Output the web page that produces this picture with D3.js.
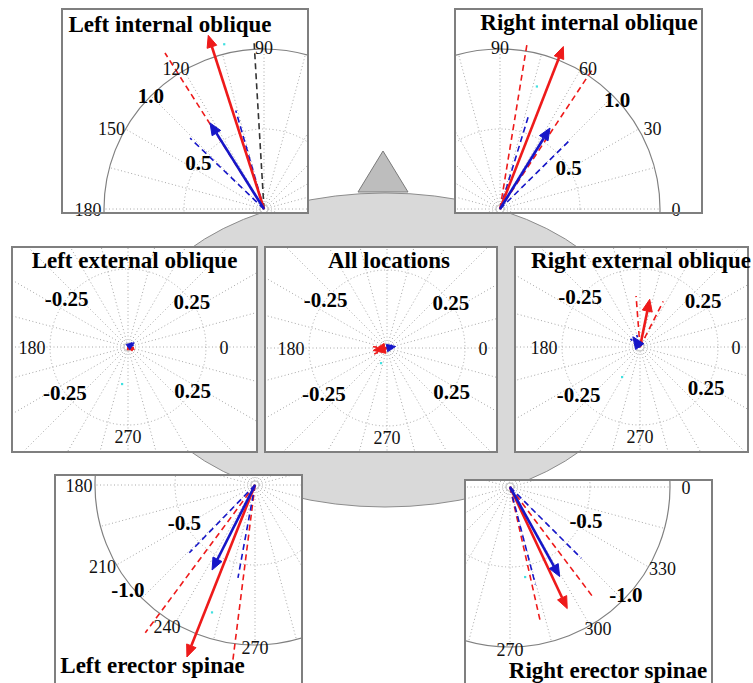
<!DOCTYPE html>
<html><head><meta charset="utf-8">
<script src="https://cdn.jsdelivr.net/npm/d3@7"></script>
<style>body{margin:0;background:#fff}svg{display:block}</style>
</head><body>
<svg id="c" width="753" height="683"></svg>
<script>
// ---------- DATA ----------
const titles = ["Left internal oblique","Right internal oblique","Left external oblique","All locations","Right external oblique","Left erector spinae","Right erector spinae"];
const angleTicks = [[90,120,150,180],[0,30,60,90],[0,180,270],[0,180,270],[0,180,270],[180,210,240,270],[0,270,300,330]];
const ringLabelText  = [["0.5","1.0"],["0.5","1.0"],["-0.25","0.25","-0.25","0.25"],["-0.25","0.25","-0.25","0.25"],["-0.25","0.25","-0.25","0.25"],["-0.5","-1.0"],["-0.5","-1.0"]];
const ringLabelValue = [[0.5,1.0],[0.5,1.0],[0.25,0.25,0.25,0.25],[0.25,0.25,0.25,0.25],[0.25,0.25,0.25,0.25],[0.5,1.03],[0.52,0.99]];
const ringLabelAngle = [[145,135],[31,43],[142,35,216,326],[142,35,216,326],[140,36,218,328],[208,219.5],[336,317]];
const rings = [[0.03,0.5],[0.03,0.5],[0.016,0.25],[0.016,0.25],[0.016,0.25],[0.03,0.5],[0.03,0.5]];
const outerRadius = [1,1,0.55,0.55,0.55,1,1];

const redMeanAngle = [107.8, 68.7, 340, 190, 78.5, 248.4, 295.2];
const redMeanMag   = [1.14, 1.09, 0.022, 0.045, 0.156, 1.156, 0.84];
const redLoAngle   = [122.4, 80.7, 355, 175, 94.4, 233.4, 282.7];
const redHiAngle   = [null, 56.5, 320, 205, 63, 262.8, 307];
const redCIMag     = [1.155, 1.06, 0.022, 0.045, 0.164, 1.15, 0.85];

const blueMeanAngle = [122.1, 58.3, 35, 10, 125, 243.2, 299];
const blueMeanMag   = [0.635, 0.595, 0.024, 0.028, 0.04, 0.595, 0.64];
const blueLoAngle   = [136.2, 44.6, 20, 355, 140, 225.9, 284.6];
const blueHiAngle   = [106, 73, 50, 30, 105, 259.6, 315];
const blueCIMag     = [0.64, 0.6, 0.024, 0.028, 0.04, 0.59, 0.63];

const blackRefAngle = [93.4, null, null, null, null, null, null];
const blackRefMag   = [1.06, null, null, null, null, null, null];

const cyanAngle = [103.6, 73.3, 260.8, 248, 239, 251.3, 279.5];
const cyanMag   = [1.06, 0.8, 0.12, 0.052, 0.112, 0.84, 0.57];

// ---------- LAYOUT ----------
const boxes = [[62,9,308,213],[455,9,702,213],[12,247,257,452],[265,247,497,452],[515,247,748,452],[55,475,302,700],[465,480,712,700]];
const origins = [[264,209],[500,209],[128,347],[387,348],[640,347],[255,485],[510,487]];
const pxPerUnit = [160,160,312,312,312,160,160];
const titlePos = [[170,32],[589,30],[134.5,268],[389,268],[641,268],[152.5,673],[608,678]];
const labelBase = [1,1,0.28,0.28,0.28,1,1];

const RED = "#ee1a1a", BLUE = "#1616c8", CYAN = "#40e0e0";
const SERIF = "'Liberation Serif','Times New Roman',serif";

const svg = d3.select("#c");
const defs = svg.append("defs");

// torso background
svg.append("ellipse").attr("cx",385).attr("cy",350).attr("rx",255).attr("ry",157)
  .attr("fill","#d9d9d9").attr("stroke","#8c8c8c").attr("stroke-width",1);
svg.append("path").attr("d", d3.line()([[383,151],[358,192],[408,192]]) + "Z")
  .attr("fill","#bdbdbd").attr("stroke","#7a7a7a").attr("stroke-width",1);

titles.forEach((title, i) => {
  const [x0,y0,x1,y1] = boxes[i];
  const [cx,cy] = origins[i];
  const r = d3.scaleLinear().domain([0,1]).range([0,pxPerUnit[i]]);
  const a = d3.scaleLinear().domain([0,360]).range([0,2*Math.PI]);
  const pt = (deg, v) => [cx + r(v)*Math.cos(a(deg)), cy - r(v)*Math.sin(a(deg))];

  const g = svg.append("g");
  g.append("rect").attr("x",x0).attr("y",y0).attr("width",x1-x0).attr("height",y1-y0).attr("fill","#fff");
  defs.append("clipPath").attr("id","clip"+i).append("rect")
    .attr("x",x0).attr("y",y0).attr("width",x1-x0).attr("height",y1-y0);
  const cg = g.append("g").attr("clip-path",`url(#clip${i})`);

  // spokes
  cg.selectAll("line.spoke").data(d3.range(0,360,15)).join("line")
    .attr("x1",cx).attr("y1",cy)
    .attr("x2",d=>pt(d,outerRadius[i])[0]).attr("y2",d=>pt(d,outerRadius[i])[1])
    .attr("stroke","#a8a8a8").attr("stroke-width",1).attr("stroke-dasharray","1,2.5");
  // rings
  cg.selectAll("circle.ring").data(rings[i]).join("circle")
    .attr("cx",cx).attr("cy",cy).attr("r",d=>r(d))
    .attr("fill","none").attr("stroke","#a8a8a8").attr("stroke-width",1).attr("stroke-dasharray","1,2.5");
  // outer solid circle
  cg.append("circle").attr("cx",cx).attr("cy",cy).attr("r",r(outerRadius[i]))
    .attr("fill","none").attr("stroke","#808080").attr("stroke-width",1.2);

  const dashed = (deg, mag, color) => {
    if (deg == null || mag == null) return;
    const p = pt(deg, mag);
    cg.append("line").attr("x1",cx).attr("y1",cy).attr("x2",p[0]).attr("y2",p[1])
      .attr("stroke",color).attr("stroke-width",1.6).attr("stroke-dasharray","6,4");
  };
  const arrow = (deg, mag, color) => {
    const tip = pt(deg, mag);
    const L = r(mag);
    const hl = Math.min(12, L);
    const base = pt(deg, mag - r.invert(hl));
    const hw = Math.max(3, hl*0.42);
    const ux = Math.cos(a(deg)), uy = -Math.sin(a(deg));
    const px = -uy, py = ux;
    if (L > hl) {
      cg.append("line").attr("x1",cx).attr("y1",cy).attr("x2",base[0]).attr("y2",base[1])
        .attr("stroke",color).attr("stroke-width",2.6);
    }
    cg.append("path").attr("d", d3.line()([tip,[base[0]+px*hw,base[1]+py*hw],[base[0]-px*hw,base[1]-py*hw]])+"Z")
      .attr("fill",color).attr("stroke",color).attr("stroke-width",1);
  };

  dashed(blackRefAngle[i], blackRefMag[i], "#333");
  dashed(redLoAngle[i], redCIMag[i], RED);
  dashed(redHiAngle[i], redCIMag[i], RED);
  dashed(blueLoAngle[i], blueCIMag[i], BLUE);
  dashed(blueHiAngle[i], blueCIMag[i], BLUE);
  arrow(redMeanAngle[i], redMeanMag[i], RED);
  arrow(blueMeanAngle[i], blueMeanMag[i], BLUE);

  const cp = pt(cyanAngle[i], cyanMag[i]);
  cg.append("rect").attr("x",cp[0]-1).attr("y",cp[1]-1).attr("width",2.2).attr("height",2.2).attr("fill",CYAN);

  // angle tick labels
  angleTicks[i].forEach(t => {
    const R = r(labelBase[i]);
    g.append("text")
      .attr("x", cx + 1.1*R*Math.cos(a(t)))
      .attr("y", cy - 1.015*R*Math.sin(a(t)) + 1)
      .attr("text-anchor","middle").attr("dominant-baseline","central")
      .attr("font-family",SERIF).attr("font-size",18).attr("fill","#111")
      .text(String(t));
  });
  // ring labels
  ringLabelText[i].forEach((t, k) => {
    const p = pt(ringLabelAngle[i][k], ringLabelValue[i][k]);
    g.append("text").attr("x",p[0]).attr("y",p[1])
      .attr("text-anchor","middle").attr("dominant-baseline","central")
      .attr("font-family",SERIF).attr("font-size",21).attr("font-weight","bold").attr("fill","#000")
      .text(t);
  });
  // border
  g.append("rect").attr("x",x0).attr("y",y0).attr("width",x1-x0).attr("height",y1-y0)
    .attr("fill","none").attr("stroke","#7f7f7f").attr("stroke-width",2);
  // title
  g.append("text").attr("x",titlePos[i][0]).attr("y",titlePos[i][1])
    .attr("text-anchor","middle").attr("font-family",SERIF).attr("font-size",23)
    .attr("font-weight","bold").attr("fill","#000").text(title);
});
</script>
</body></html>
